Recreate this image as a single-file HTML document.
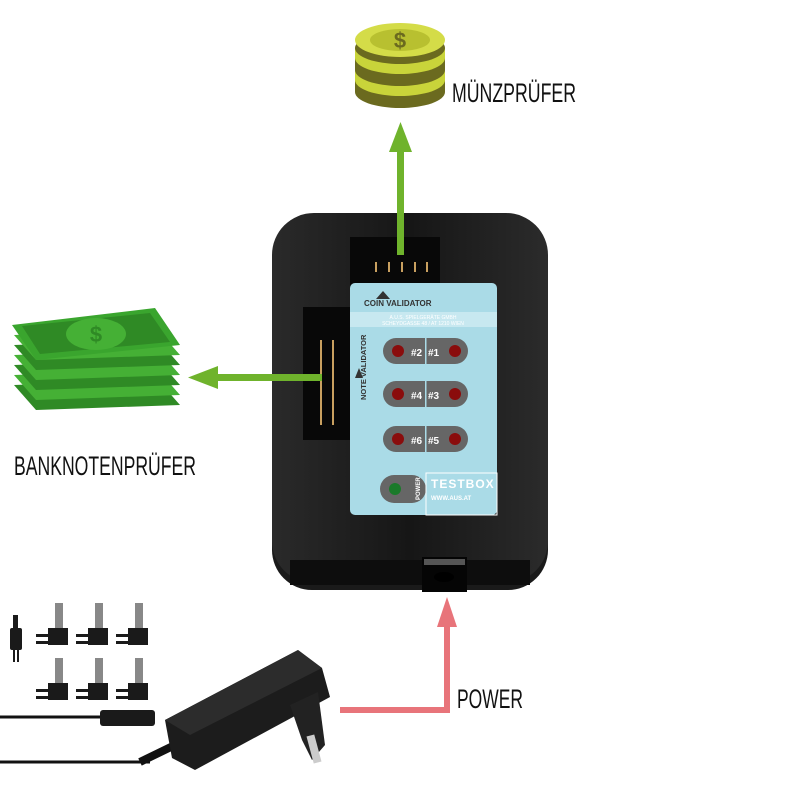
<!DOCTYPE html>
<html><head><meta charset="utf-8"><style>
html,body{margin:0;padding:0;background:#fff;width:800px;height:800px;overflow:hidden}
svg{display:block}
text{font-family:"Liberation Sans",sans-serif}
</style></head><body>
<svg width="800" height="800" viewBox="0 0 800 800" xmlns="http://www.w3.org/2000/svg">
<defs>
<linearGradient id="dev" x1="0" y1="0" x2="1" y2="0">
<stop offset="0" stop-color="#2a2a2a"/><stop offset="0.5" stop-color="#161616"/><stop offset="1" stop-color="#2b2b2b"/></linearGradient>
</defs>
<!-- coins -->
<g>
<ellipse cx="400" cy="92" rx="45" ry="16" fill="#6b6a1f"/>
<rect x="355" y="80" width="90" height="12" fill="#6b6a1f"/>
<ellipse cx="400" cy="80" rx="45" ry="16" fill="#c9d43a"/>
<rect x="355" y="70" width="90" height="10" fill="#c9d43a"/>
<ellipse cx="400" cy="70" rx="45" ry="16" fill="#6b6a1f"/>
<rect x="355" y="58" width="90" height="12" fill="#6b6a1f"/>
<ellipse cx="400" cy="58" rx="45" ry="16" fill="#c9d43a"/>
<rect x="355" y="48" width="90" height="10" fill="#c9d43a"/>
<ellipse cx="400" cy="48" rx="45" ry="16" fill="#6b6a1f"/>
<ellipse cx="400" cy="40" rx="45" ry="17" fill="#d4dc48"/>
<ellipse cx="400" cy="40" rx="30" ry="11" fill="#b8c030"/>
<text x="400" y="48" font-size="22" font-weight="bold" fill="#6b6a1f" text-anchor="middle">$</text>
</g>
<text x="452" y="102" font-size="27" fill="#111" textLength="124" lengthAdjust="spacingAndGlyphs">MÜNZPRÜFER</text>
<!-- banknotes -->
<g>
<polygon points="14,385 158,380 180,405 36,410" fill="#2f8a25"/>
<polygon points="14,375 158,370 180,395 36,400" fill="#45b035"/>
<polygon points="14,365 158,360 180,385 36,390" fill="#2f8a25"/>
<polygon points="14,355 158,350 180,375 36,380" fill="#45b035"/>
<polygon points="14,345 158,340 180,365 36,370" fill="#2f8a25"/>
<polygon points="14,335 158,330 180,355 36,360" fill="#45b035"/>
<polygon points="12,325 155,308 180,345 36,360" fill="#3aa52e"/>
<polygon points="22,326 150,313 170,342 40,354" fill="#2f8a25"/>
<ellipse cx="96" cy="334" rx="30" ry="16" fill="#45b035"/>
<text x="96" y="342" font-size="22" font-weight="bold" fill="#2f8a25" text-anchor="middle">$</text>
</g>
<text x="14" y="475" font-size="27" fill="#111" textLength="182" lengthAdjust="spacingAndGlyphs">BANKNOTENPRÜFER</text>
<!-- device -->
<rect x="272" y="470" width="276" height="120" rx="40" fill="#1a1a1a"/>
<rect x="272" y="213" width="276" height="370" rx="42" fill="url(#dev)"/>
<rect x="290" y="560" width="240" height="25" fill="#0d0d0d"/>
<rect x="422" y="557" width="45" height="35" fill="#050505"/>
<rect x="424" y="559" width="41" height="6" fill="#555"/>
<ellipse cx="444" cy="577" rx="10" ry="5" fill="#000"/>
<!-- top connector -->
<rect x="350" y="237" width="90" height="50" fill="#080808"/>
<g fill="#c9a060"><rect x="375" y="262" width="2" height="10"/><rect x="388" y="262" width="2" height="10"/><rect x="401" y="262" width="2" height="10"/><rect x="414" y="262" width="2" height="10"/><rect x="426" y="262" width="2" height="10"/></g>
<!-- left connector -->
<rect x="303" y="307" width="48" height="133" fill="#080808"/>
<g fill="#c9a060">
<rect x="320" y="340" width="2" height="85"/><rect x="332" y="340" width="2" height="85"/>
</g>
<!-- label card -->
<rect x="350" y="283" width="147" height="232" rx="5" fill="#aadbe7"/>
<polygon points="376,299 390,299 383,291" fill="#333"/>
<text x="364" y="306" font-size="8" fill="#333" font-weight="bold">COIN VALIDATOR</text>
<rect x="350" y="312" width="147" height="15" fill="#c7e8f0"/>
<text x="423" y="319" font-size="5" fill="#fff" text-anchor="middle">A.U.S. SPIELGERÄTE GMBH</text>
<text x="423" y="325" font-size="5" fill="#fff" text-anchor="middle">SCHEYDGASSE 48 / AT 1210 WIEN</text>
<polygon points="355,378 363,378 359,368" fill="#333"/>
<text transform="translate(366,400) rotate(-90)" font-size="7.5" fill="#333" font-weight="bold">NOTE VALIDATOR</text>
<g>
<rect x="383" y="338" width="85" height="26" rx="13" fill="#666"/>
<rect x="383" y="381" width="85" height="26" rx="13" fill="#666"/>
<rect x="383" y="426" width="85" height="26" rx="13" fill="#666"/>
<rect x="425" y="338" width="1.5" height="114" fill="#aadbe7"/>
<g fill="#8a0c0c"><circle cx="398" cy="351" r="6"/><circle cx="455" cy="351" r="6"/><circle cx="398" cy="394" r="6"/><circle cx="455" cy="394" r="6"/><circle cx="398" cy="439" r="6"/><circle cx="455" cy="439" r="6"/></g>
<text x="411" y="356" font-size="10" fill="#fff" font-weight="bold">#2</text><text x="428" y="356" font-size="10" fill="#fff" font-weight="bold">#1</text>
<text x="411" y="399" font-size="10" fill="#fff" font-weight="bold">#4</text><text x="428" y="399" font-size="10" fill="#fff" font-weight="bold">#3</text>
<text x="411" y="444" font-size="10" fill="#fff" font-weight="bold">#6</text><text x="428" y="444" font-size="10" fill="#fff" font-weight="bold">#5</text>
<rect x="380" y="475" width="46" height="28" rx="14" fill="#666"/>
<circle cx="395" cy="489" r="6" fill="#1a7a2a"/>
<text transform="translate(420,500) rotate(-90)" font-size="6" fill="#fff" font-weight="bold">POWER</text>
<rect x="426" y="473" width="71" height="42" fill="none" stroke="#fff" stroke-width="1"/>
<text x="431" y="488" font-size="12" fill="#fff" font-weight="bold" letter-spacing="1">TESTBOX</text>
<text x="431" y="500" font-size="6" fill="#fff" font-weight="bold">WWW.AUS.AT</text>
</g>
<!-- arrows -->
<rect x="397" y="150" width="7" height="105" fill="#6fb32c"/>
<polygon points="389,152 412,152 400.5,122" fill="#6fb32c"/>
<rect x="215" y="374" width="107" height="7" fill="#6fb32c"/>
<polygon points="218,366 218,389 188,377.5" fill="#6fb32c"/>
<polyline points="340,710 447,710 447,625" fill="none" stroke="#e8747a" stroke-width="6"/>
<polygon points="437,627 457,627 447,597" fill="#e8747a"/>
<text x="457" y="708" font-size="27" fill="#111" textLength="66" lengthAdjust="spacingAndGlyphs">POWER</text>
<!-- adapter plugs -->
<g fill="#1a1a1a">
<rect x="13" y="615" width="5" height="14"/><rect x="10" y="628" width="12" height="22" rx="2"/><rect x="13" y="650" width="2" height="12"/><rect x="17" y="650" width="2" height="12"/>
<g id="p"><rect x="55" y="603" width="8" height="25" fill="#888"/><path d="M48 628 h20 v17 h-20 z"/><rect x="36" y="634" width="12" height="3"/><rect x="36" y="641" width="12" height="3"/></g>
<use href="#p" x="40"/><use href="#p" x="80"/>
<use href="#p" x="0" y="55"/><use href="#p" x="40" y="55"/><use href="#p" x="80" y="55"/>
</g>
<!-- cables -->
<line x1="0" y1="717" x2="105" y2="717" stroke="#111" stroke-width="3"/>
<rect x="100" y="710" width="55" height="16" rx="3" fill="#1a1a1a"/>
<line x1="0" y1="762" x2="150" y2="762" stroke="#111" stroke-width="3"/>
<path d="M140 762 L175 745" stroke="#111" stroke-width="8"/>
<!-- adapter body -->
<polygon points="165,720 298,650 322,668 330,697 195,770 172,758" fill="#1c1c1c"/>
<polygon points="165,720 298,650 322,668 190,735" fill="#2c2c2c"/>
<polygon points="290,705 318,692 325,745 312,760 302,740" fill="#222"/>
<rect x="310" y="735" width="8" height="28" fill="#ccc" transform="rotate(-15 314 749)"/>
</svg>
</body></html>
